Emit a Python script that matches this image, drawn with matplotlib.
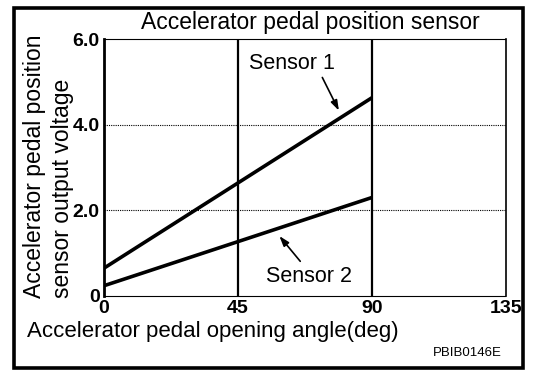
import matplotlib
matplotlib.use('Agg')
import matplotlib.pyplot as plt
from matplotlib.patches import Rectangle

plt.rcParams['font.family'] = ['Liberation Sans', 'DejaVu Sans']

# pedal angle (deg) vs sensor output (V)
angle = [0, 90]
sensor1 = [0.65, 4.63]
sensor2 = [0.24, 2.3]
xticks = [0, 45, 90, 135]
yticks = [0, 2, 4, 6]
ytick_labels = ['0', '2.0', '4.0', '6.0']

W, H = 544, 384
fig = plt.figure(figsize=(W / 100, H / 100), dpi=100)
ax = fig.add_axes([104 / W, 1 - 296 / H, 402 / W, 257 / H])

ax.plot(angle, sensor1, color='black', lw=2.6, solid_capstyle='butt')
ax.plot(angle, sensor2, color='black', lw=2.6, solid_capstyle='butt')

ax.set_xlim(0, 135)
ax.set_ylim(0, 6)
ax.set_xticks(xticks)
ax.set_yticks(yticks)
ax.set_yticklabels(ytick_labels)
ax.tick_params(length=0, labelsize=14, pad=3)
for lab in ax.get_xticklabels() + ax.get_yticklabels():
    lab.set_fontweight('bold')

# grid: solid verticals, dotted horizontals
for xv in [45, 90]:
    ax.axvline(xv, color='black', lw=1.6)
for yv in [2, 4]:
    ax.axhline(yv, color='black', lw=0.8, ls=(0, (1, 1)))

ax.spines['left'].set_linewidth(2)
ax.spines['right'].set_linewidth(1.2)
ax.spines['top'].set_linestyle((0, (1, 1)))
ax.spines['top'].set_linewidth(0.8)
ax.spines['bottom'].set_linestyle((0, (1, 1)))
ax.spines['bottom'].set_linewidth(0.8)

arrow = dict(arrowstyle='-|>,head_length=0.6,head_width=0.2', color='black', lw=1.2)
ax.text(63, 5.43, 'Sensor 1', fontsize=15.5, ha='center', va='center')
ax.annotate('', xy=(79.3, 4.27), xytext=(72.9, 5.16), arrowprops=arrow)
ax.text(68.8, 0.46, 'Sensor 2', fontsize=15.5, ha='center', va='center')
ax.annotate('', xy=(58.3, 1.45), xytext=(66.5, 0.76), arrowprops=arrow)

fig.text(310 / W, 1 - 22 / H, 'Accelerator pedal position sensor', fontsize=16.5,
         ha='center', va='center')
fig.text(35 / W, 1 - 298 / H, 'Accelerator pedal position', fontsize=16.5,
         rotation=90, ha='center', va='bottom')
fig.text(62 / W, 1 - 298 / H, 'sensor output voltage', fontsize=16.5,
         rotation=90, ha='center', va='bottom')
fig.text(27 / W, 1 - 332 / H, 'Accelerator pedal opening angle(deg)',
         fontsize=16, ha='left', va='center')
fig.text(502 / W, 1 - 353 / H, 'PBIB0146E', fontsize=9.5,
         ha='right', va='center')

fig.patches.append(Rectangle((14 / W, 1 - 368 / H), 509 / W, 360 / H,
                             transform=fig.transFigure, fill=False,
                             edgecolor='black', lw=2.6))

fig.savefig('out.png', dpi=100)
